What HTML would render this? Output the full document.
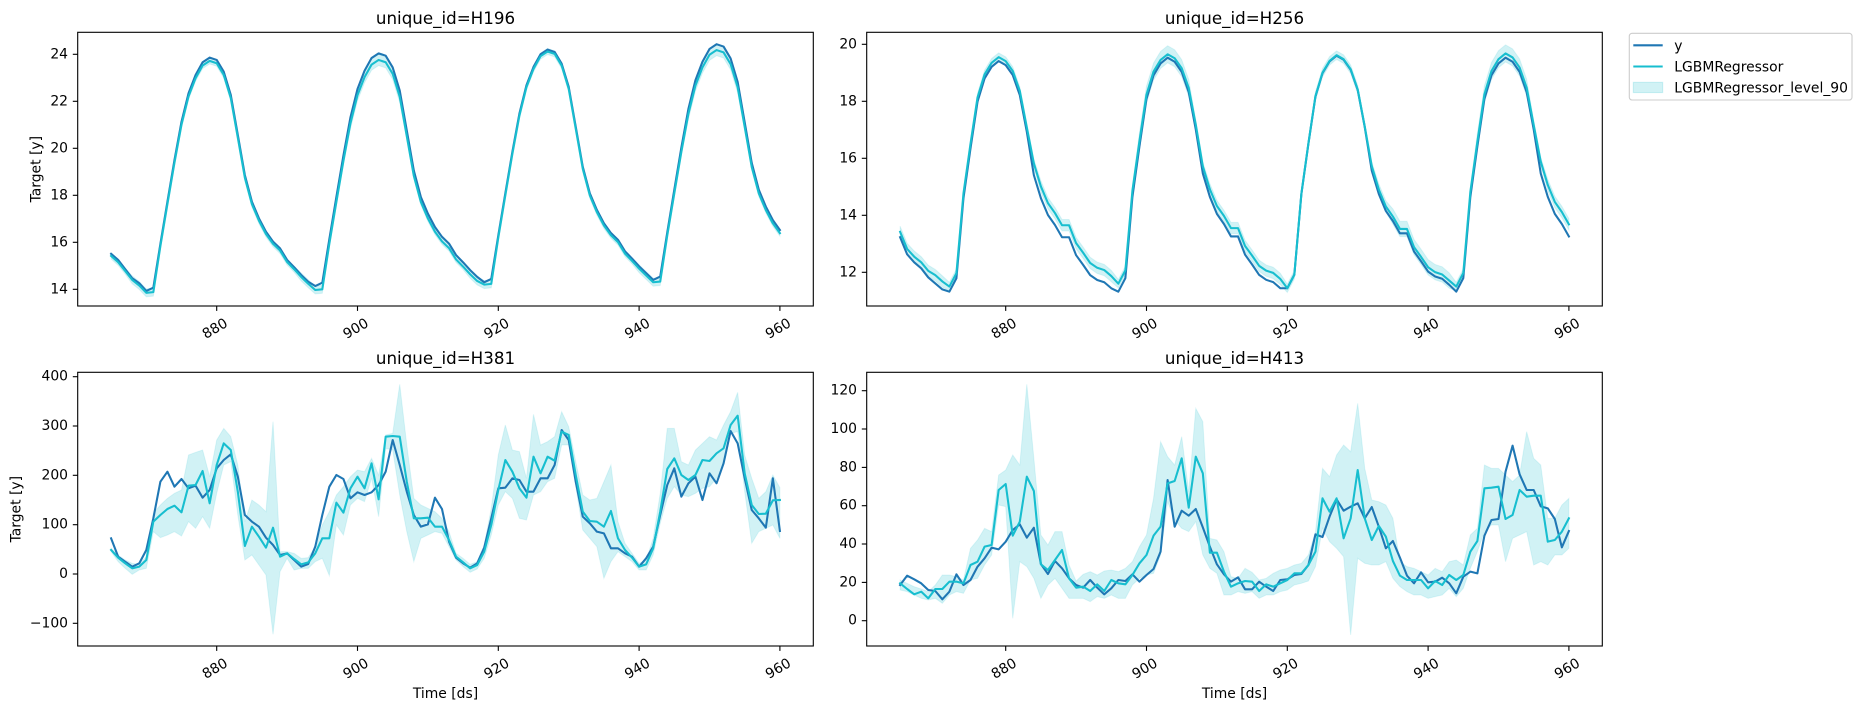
<!DOCTYPE html>
<html><head><meta charset="utf-8">
<style>
html,body{margin:0;padding:0;background:#fff;}
svg{display:block;}
text{font-family:"DejaVu Sans","Liberation Sans",sans-serif;fill:#000;}
.yt{font-size:13.9px;text-anchor:end;dominant-baseline:central;}
.xt{font-size:13.9px;text-anchor:middle;dominant-baseline:central;}
.ti{font-size:16.7px;text-anchor:middle;}
.lb{font-size:13.9px;text-anchor:middle;}
.lg{font-size:13.9px;}
.tk{stroke:#000;stroke-width:1.1;}
.fr{fill:none;stroke:#000;stroke-width:1.1;}
</style></head>
<body>
<svg id="s" width="1862" height="711" viewBox="0 0 1862 711" xmlns="http://www.w3.org/2000/svg">
<defs>
<clipPath id="cTL"><rect x="77.7" y="32.3" width="735.6" height="273.7"/></clipPath>
<clipPath id="cTR"><rect x="866.7" y="32.3" width="735.6" height="273.7"/></clipPath>
<clipPath id="cBL"><rect x="77.7" y="372.3" width="735.6" height="273.7"/></clipPath>
<clipPath id="cBR"><rect x="866.7" y="372.3" width="735.6" height="273.7"/></clipPath>
</defs>
<rect x="0" y="0" width="1862" height="711" fill="#fff"/>
<g id="data"></g>

<!-- frames -->
<rect class="fr" x="77.7" y="32.3" width="735.6" height="273.7"/>
<rect class="fr" x="866.7" y="32.3" width="735.6" height="273.7"/>
<rect class="fr" x="77.7" y="372.3" width="735.6" height="273.7"/>
<rect class="fr" x="866.7" y="372.3" width="735.6" height="273.7"/>

<!-- titles -->
<text class="ti" x="445.5" y="24">unique_id=H196</text>
<text class="ti" x="1234.5" y="24">unique_id=H256</text>
<text class="ti" x="445.5" y="364">unique_id=H381</text>
<text class="ti" x="1234.5" y="364">unique_id=H413</text>

<!-- x ticks -->
<g class="tk">
<line x1="216.7" y1="306" x2="216.7" y2="310.9"/><line x1="357.5" y1="306" x2="357.5" y2="310.9"/><line x1="498.3" y1="306" x2="498.3" y2="310.9"/><line x1="639.1" y1="306" x2="639.1" y2="310.9"/><line x1="779.9" y1="306" x2="779.9" y2="310.9"/>
<line x1="1005.7" y1="306" x2="1005.7" y2="310.9"/><line x1="1146.5" y1="306" x2="1146.5" y2="310.9"/><line x1="1287.3" y1="306" x2="1287.3" y2="310.9"/><line x1="1428.1" y1="306" x2="1428.1" y2="310.9"/><line x1="1568.9" y1="306" x2="1568.9" y2="310.9"/>
<line x1="216.7" y1="646" x2="216.7" y2="650.9"/><line x1="357.5" y1="646" x2="357.5" y2="650.9"/><line x1="498.3" y1="646" x2="498.3" y2="650.9"/><line x1="639.1" y1="646" x2="639.1" y2="650.9"/><line x1="779.9" y1="646" x2="779.9" y2="650.9"/>
<line x1="1005.7" y1="646" x2="1005.7" y2="650.9"/><line x1="1146.5" y1="646" x2="1146.5" y2="650.9"/><line x1="1287.3" y1="646" x2="1287.3" y2="650.9"/><line x1="1428.1" y1="646" x2="1428.1" y2="650.9"/><line x1="1568.9" y1="646" x2="1568.9" y2="650.9"/>
</g>
<text class="xt" transform="translate(215.2,329) rotate(-30)">880</text>
<text class="xt" transform="translate(356,329) rotate(-30)">900</text>
<text class="xt" transform="translate(496.8,329) rotate(-30)">920</text>
<text class="xt" transform="translate(637.6,329) rotate(-30)">940</text>
<text class="xt" transform="translate(778.4,329) rotate(-30)">960</text>
<text class="xt" transform="translate(1004.2,329) rotate(-30)">880</text>
<text class="xt" transform="translate(1145,329) rotate(-30)">900</text>
<text class="xt" transform="translate(1285.8,329) rotate(-30)">920</text>
<text class="xt" transform="translate(1426.6,329) rotate(-30)">940</text>
<text class="xt" transform="translate(1567.4,329) rotate(-30)">960</text>
<text class="xt" transform="translate(215.2,669) rotate(-30)">880</text>
<text class="xt" transform="translate(356,669) rotate(-30)">900</text>
<text class="xt" transform="translate(496.8,669) rotate(-30)">920</text>
<text class="xt" transform="translate(637.6,669) rotate(-30)">940</text>
<text class="xt" transform="translate(778.4,669) rotate(-30)">960</text>
<text class="xt" transform="translate(1004.2,669) rotate(-30)">880</text>
<text class="xt" transform="translate(1145,669) rotate(-30)">900</text>
<text class="xt" transform="translate(1285.8,669) rotate(-30)">920</text>
<text class="xt" transform="translate(1426.6,669) rotate(-30)">940</text>
<text class="xt" transform="translate(1567.4,669) rotate(-30)">960</text>

<!-- y ticks TL -->
<g class="tk">
<line x1="72.8" y1="289.3" x2="77.7" y2="289.3"/><line x1="72.8" y1="242.3" x2="77.7" y2="242.3"/><line x1="72.8" y1="195.3" x2="77.7" y2="195.3"/><line x1="72.8" y1="148.3" x2="77.7" y2="148.3"/><line x1="72.8" y1="101.3" x2="77.7" y2="101.3"/><line x1="72.8" y1="54.3" x2="77.7" y2="54.3"/>
<line x1="861.8" y1="272.3" x2="866.7" y2="272.3"/><line x1="861.8" y1="215.3" x2="866.7" y2="215.3"/><line x1="861.8" y1="158.3" x2="866.7" y2="158.3"/><line x1="861.8" y1="101.3" x2="866.7" y2="101.3"/><line x1="861.8" y1="44.3" x2="866.7" y2="44.3"/>
<line x1="72.8" y1="376.7" x2="77.7" y2="376.7"/><line x1="72.8" y1="426" x2="77.7" y2="426"/><line x1="72.8" y1="475.3" x2="77.7" y2="475.3"/><line x1="72.8" y1="524.7" x2="77.7" y2="524.7"/><line x1="72.8" y1="574" x2="77.7" y2="574"/><line x1="72.8" y1="623.3" x2="77.7" y2="623.3"/>
<line x1="861.8" y1="620.7" x2="866.7" y2="620.7"/><line x1="861.8" y1="582.4" x2="866.7" y2="582.4"/><line x1="861.8" y1="544" x2="866.7" y2="544"/><line x1="861.8" y1="505.7" x2="866.7" y2="505.7"/><line x1="861.8" y1="467.4" x2="866.7" y2="467.4"/><line x1="861.8" y1="429" x2="866.7" y2="429"/><line x1="861.8" y1="390.7" x2="866.7" y2="390.7"/>
</g>
<text class="yt" x="68" y="289.3">14</text>
<text class="yt" x="68" y="242.3">16</text>
<text class="yt" x="68" y="195.3">18</text>
<text class="yt" x="68" y="148.3">20</text>
<text class="yt" x="68" y="101.3">22</text>
<text class="yt" x="68" y="54.3">24</text>
<text class="yt" x="857" y="272.3">12</text>
<text class="yt" x="857" y="215.3">14</text>
<text class="yt" x="857" y="158.3">16</text>
<text class="yt" x="857" y="101.3">18</text>
<text class="yt" x="857" y="44.3">20</text>
<text class="yt" x="68" y="376.7">400</text>
<text class="yt" x="68" y="426">300</text>
<text class="yt" x="68" y="475.3">200</text>
<text class="yt" x="68" y="524.7">100</text>
<text class="yt" x="68" y="574">0</text>
<text class="yt" x="68" y="623.3">−100</text>
<text class="yt" x="857" y="620.7">0</text>
<text class="yt" x="857" y="582.4">20</text>
<text class="yt" x="857" y="544">40</text>
<text class="yt" x="857" y="505.7">60</text>
<text class="yt" x="857" y="467.4">80</text>
<text class="yt" x="857" y="429">100</text>
<text class="yt" x="857" y="390.7">120</text>

<!-- axis labels -->
<text class="lb" transform="translate(36.5,169.2) rotate(-90)" dominant-baseline="central">Target [y]</text>
<text class="lb" transform="translate(16.4,509.2) rotate(-90)" dominant-baseline="central">Target [y]</text>
<text class="lb" x="445.5" y="698">Time [ds]</text>
<text class="lb" x="1234.5" y="698">Time [ds]</text>

<!-- legend -->
<rect x="1629.3" y="33.3" width="222.7" height="66.7" rx="2.8" fill="#fff" fill-opacity="0.8" stroke="#cccccc" stroke-width="1.1"/>
<line x1="1633.3" y1="45.3" x2="1662.7" y2="45.3" stroke="#1f77b4" stroke-width="2.08"/>
<line x1="1633.3" y1="66.5" x2="1662.7" y2="66.5" stroke="#17becf" stroke-width="2.08"/>
<rect x="1633.3" y="82.3" width="29.4" height="10.3" fill="#17becf" fill-opacity="0.2" stroke="#17becf" stroke-opacity="0.2" stroke-width="1"/>
<text class="lg" x="1674.3" y="50.5">y</text>
<text class="lg" x="1674.3" y="71.6">LGBMRegressor</text>
<text class="lg" x="1674.3" y="92.7">LGBMRegressor_level_90</text>
</svg>
<script>
(function(){
var NS="http://www.w3.org/2000/svg";
var data=document.getElementById('data');
function X(left,i){return (left?111.1:900.1)+7.04*i;}
function P(pts){var s='';for(var i=0;i<pts.length;i++){s+=(i?'L':'M')+pts[i][0].toFixed(2)+','+pts[i][1].toFixed(2);}return s;}
function panel(clip,left,yv,cv,lo,hi){
  var g=document.createElementNS(NS,'g');g.setAttribute('clip-path','url(#'+clip+')');
  var up=[],dn=[];
  for(var i=0;i<hi.length;i++)up.push([X(left,i),hi[i]]);
  for(var j=lo.length-1;j>=0;j--)dn.push([X(left,j),lo[j]]);
  var b=document.createElementNS(NS,'path');b.setAttribute('d',P(up.concat(dn))+'Z');
  b.setAttribute('fill','#17becf');b.setAttribute('fill-opacity','0.2');
  b.setAttribute('stroke','#17becf');b.setAttribute('stroke-opacity','0.12');b.setAttribute('stroke-width','1');
  g.appendChild(b);
  function line(v,col){var a=[];for(var i=0;i<v.length;i++)a.push([X(left,i),v[i]]);
    var p=document.createElementNS(NS,'path');p.setAttribute('d',P(a));p.setAttribute('fill','none');
    p.setAttribute('stroke',col);p.setAttribute('stroke-width','2.08');p.setAttribute('stroke-linejoin','round');p.setAttribute('stroke-linecap','square');g.appendChild(p);}
  line(yv,'#1f77b4');line(cv,'#17becf');
  data.appendChild(g);
}
function cyc(T,start,first,los,his,off,n){
  var T0=T[0],Tm=Math.max.apply(null,T),a=first.slice();
  for(var i=first.length;i<n;i++){var c=Math.floor((i-start)/24),k=(i-start)%24;
    var v=los[c]+(T[k]-T0)/(Tm-T0)*(his[c]-los[c]);
    if(off&&k>=12)v+=off[c];
    a.push(v);}
  return a;
}
// H196
var T=[13.93,14.07,15.93,17.73,19.5,21.13,22.34,23.12,23.66,23.86,23.76,23.26,22.27,20.57,18.86,17.73,17.02,16.45,16.03,15.74,15.25,14.94,14.61,14.32];
var Tc=T.slice();Tc[1]=13.96;
var b1=cyc(T,5,[15.51,15.25,14.86,14.47,14.26],[13.93,14.14,14.3,14.4],[23.86,24.04,24.2,24.43],null,96);
var c1=cyc(Tc,5,[15.42,15.15,14.78,14.4,14.16],[13.85,13.97,14.2,14.3],[23.72,23.76,24.12,24.18],null,96);
function ty1(v){return 289.3-(v-14)*23.5;}
var h1=[],l1=[];
for(var i=0;i<96;i++){var k=(i-5+240)%24,c=Math.floor((i-5)/24);var w=0.13;if((c==1||c==3)&&k>=5&&k<=12)w=0.24;if(k<=1||k>=22)w=0.17;h1.push(ty1(c1[i]+w));l1.push(ty1(c1[i]-w));}
panel('cTL',true,b1.map(ty1),c1.map(ty1),l1,h1);
// H256
var T2=[11.32,11.79,14.6,16.35,17.99,18.8,19.21,19.41,19.27,18.92,18.22,16.93,15.41,14.6,14.01,13.66,13.23,13.23,12.6,12.26,11.9,11.73,11.65,11.44];
var b2=cyc(T2,7,[13.23,12.63,12.35,12.14,11.82,11.61,11.4],[11.32,11.32,11.44,11.32],[19.41,19.53,19.6,19.53],null,96);
var c2=cyc(T2,7,[13.42,12.82,12.55,12.35,12.05,11.9,11.68],[11.5,11.6,11.44,11.5],[19.55,19.65,19.62,19.68],[0.25,0.05,0.15,0.25],96);
function ty2(v){return 272.3-(v-12)*28.5;}
var h2=[],l2=[];
for(var i=0;i<96;i++){var k=(i-7+240)%24,c=Math.floor((i-7)/24);var w=0.15;if((c==1||c==3)&&k>=3&&k<=10)w=0.3;if(k>=13)w=0.2;if(c==2&&k>=15)w=0.27;h2.push(ty2(c2[i]+w));l2.push(ty2(c2[i]-w));}
panel('cTR',false,b2.map(ty2),c2.map(ty2),l2,h2);
// bottom panels (zoom-y coordinates)
function tb(z){return 365+z/3;}
var BLy=[520,575,590,605,595,555,460,350,320,365,342,370,362,398,375,310,285,268,335,450,470,485,518,540,570,565,585,605,597,545,450,365,330,342,400,382,390,382,360,320,225,300,380,450,485,478,398,432,530,578,595,608,595,548,460,370,368,340,345,380,380,340,340,300,195,225,350,455,475,500,505,550,550,565,575,605,580,545,450,360,310,395,355,335,405,325,355,295,198,235,340,435,460,488,340,498];
var BLc=[555,578,595,610,605,585,470,450,432,422,442,362,360,318,415,300,235,255,380,543,485,515,548,488,575,565,582,598,592,565,520,520,413,443,370,335,370,295,403,215,213,215,350,460,460,458,485,485,525,575,592,610,600,560,480,375,285,320,370,398,275,325,275,287,200,210,330,440,468,470,485,438,520,555,578,605,598,550,440,312,280,330,345,330,285,288,265,250,180,152,325,420,447,446,406,405];
var BLu=[550,570,585,595,598,575,445,420,400,385,375,270,262,255,335,225,190,215,300,470,405,420,440,170,560,560,565,580,578,545,480,440,390,365,335,315,320,280,330,210,205,58,240,400,420,430,440,460,500,565,580,598,590,540,430,270,180,255,260,340,148,240,230,215,140,185,290,390,405,400,350,300,470,535,565,595,585,520,385,190,190,290,300,255,235,215,225,180,140,82,270,340,400,380,330,368];
var BLl=[560,590,610,628,615,610,500,518,510,500,513,470,490,455,490,385,300,290,450,585,570,600,630,808,620,580,615,610,610,590,580,632,480,510,420,400,410,340,455,250,255,390,500,590,520,510,500,505,545,585,605,622,612,580,510,420,380,400,460,465,390,380,350,340,240,240,365,495,520,545,640,590,560,575,590,615,615,570,475,400,365,390,395,385,370,365,340,300,205,200,380,535,500,490,480,520];
panel('cBL',true,BLy.map(tb),BLc.map(tb),BLl.map(tb),BLu.map(tb));
var BRy=[660,632,643,655,675,678,703,680,628,660,645,605,580,548,553,530,495,478,518,488,597,627,588,610,640,660,668,645,668,688,670,645,648,628,650,630,612,560,345,485,437,452,432,487,545,598,628,650,637,673,673,650,665,678,645,643,630,627,600,508,516,455,403,437,425,415,460,426,485,550,528,578,632,655,622,652,650,638,655,685,635,620,625,512,465,462,320,242,328,375,375,424,430,462,547,498];
var BRc=[655,672,688,680,700,672,672,650,650,655,600,590,545,540,375,357,512,470,335,378,598,615,585,555,640,668,665,678,658,678,645,655,658,630,595,570,512,485,355,348,280,428,275,325,563,563,620,665,655,648,650,678,658,665,655,645,625,625,600,560,400,440,400,520,460,315,460,525,483,515,588,632,645,645,645,670,648,660,630,645,630,560,528,370,368,365,462,450,375,395,392,392,530,525,500,460];
var BRu=[645,655,665,672,680,660,630,630,635,645,550,525,490,500,330,315,270,300,58,280,510,540,500,500,600,648,628,620,630,618,615,620,610,590,545,510,400,230,275,300,215,380,130,170,520,525,560,635,640,610,622,645,640,625,615,610,600,595,570,500,310,335,270,240,260,115,310,405,410,420,460,590,605,610,620,630,610,620,590,585,600,510,490,300,310,310,330,350,330,200,280,300,460,460,420,400];
var BRl=[675,680,690,700,705,700,715,690,680,685,645,640,600,570,420,425,760,590,605,640,700,660,640,670,700,700,700,710,695,700,690,700,700,660,640,630,625,570,410,465,490,500,470,570,610,625,690,690,680,685,680,700,690,690,680,675,660,655,648,605,490,530,550,575,810,580,595,600,600,590,640,665,680,690,690,700,695,690,670,695,670,610,560,500,480,480,590,520,510,500,600,590,600,570,570,550];
panel('cBR',false,BRy.map(tb),BRc.map(tb),BRl.map(tb),BRu.map(tb));
})();
</script>
</body></html>
